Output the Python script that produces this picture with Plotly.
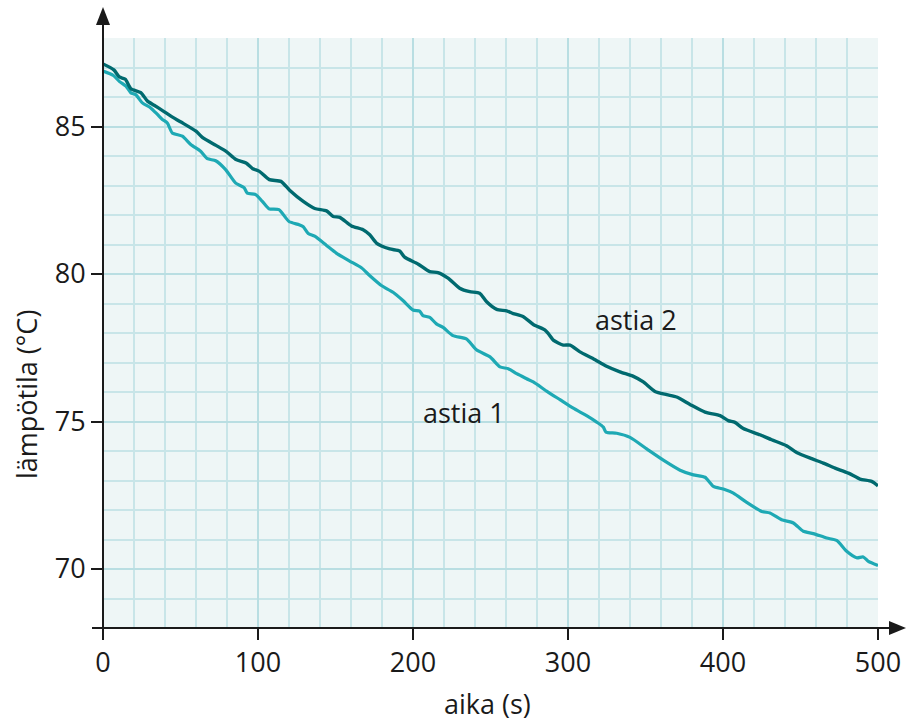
import plotly.graph_objects as go

# Cooling measurements: time (s) and temperature (°C) for the two vessels
t_astia2 = [0, 7, 10.5, 14.4, 18, 24.4, 28.7, 33, 38.4, 43.8, 50.3, 60, 64.3, 72.9, 79.4,
            85.8, 92.3, 96.6, 100.9, 107.3, 114.8, 120.4, 129.2, 136.6, 144.2, 148.5, 152.8,
            160.3, 167.8, 172.1, 176.4, 185, 191.4, 194.6, 203.2, 210.8, 216.1, 222.6, 230.1,
            236.6, 243, 247.5, 254, 260.4, 264.7, 271.2, 277.6, 285.2, 287.3, 290.5, 297,
            301.3, 307.7, 316.3, 324.9, 333.5, 342.2, 348.6, 356.1, 363.7, 370.1, 378.7,
            388.4, 398.1, 403.4, 407.7, 413.1, 423.8, 431.4, 441, 447.5, 457.2, 464.7, 472.3,
            480.9, 488.4, 495.9, 500]
temp_astia2 = [87.12, 86.92, 86.68, 86.6, 86.28, 86.15, 85.86, 85.72, 85.54, 85.35, 85.15,
               84.84, 84.62, 84.36, 84.16, 83.88, 83.76, 83.57, 83.48, 83.2, 83.14, 82.84,
               82.46, 82.22, 82.14, 81.95, 81.92, 81.63, 81.5, 81.33, 81.05, 80.85, 80.78,
               80.57, 80.34, 80.08, 80.05, 79.86, 79.52, 79.4, 79.35, 79.06, 78.8, 78.75,
               78.66, 78.55, 78.29, 78.1, 77.98, 77.76, 77.59, 77.59, 77.36, 77.13, 76.87,
               76.68, 76.53, 76.34, 76.02, 75.91, 75.83, 75.58, 75.32, 75.2, 75.03, 74.97,
               74.76, 74.55, 74.38, 74.18, 73.95, 73.74, 73.59, 73.42, 73.25, 73.05, 72.97,
               72.82]

t_astia1 = [0, 6.7, 10.5, 14.8, 18, 21.1, 25.4, 30.8, 35.1, 38.3, 41.5, 44.7, 51.2, 56.6,
            63, 67.3, 72.7, 79.1, 85.6, 91, 93.1, 98.5, 102.8, 107.1, 113.5, 120, 126.5,
            129.2, 132.4, 136.6, 144.2, 150.5, 159.1, 166.7, 172, 179.6, 187.1, 193.5, 200,
            204.3, 206.4, 210.8, 215.1, 219.4, 225.8, 234.4, 240.9, 249.7, 256.1, 261.5,
            266.9, 273.3, 277.6, 286.2, 294.8, 303.4, 312, 318.5, 322.8, 324.5, 331.4, 340,
            350.8, 361.5, 372.3, 380.9, 388.4, 393.8, 400.2, 406.7, 415.3, 425, 430.3,
            437.8, 445.4, 451.8, 458.3, 466.9, 473.3, 479.8, 486.2, 490.5, 493.8, 500]
temp_astia1 = [86.88, 86.73, 86.53, 86.37, 86.14, 86.08, 85.8, 85.63, 85.41, 85.24, 85.12,
               84.78, 84.67, 84.39, 84.16, 83.91, 83.84, 83.54, 83.08, 82.93, 82.74, 82.69,
               82.46, 82.21, 82.18, 81.78, 81.67, 81.6, 81.37, 81.28, 80.97, 80.71, 80.44,
               80.21, 79.95, 79.61, 79.38, 79.1, 78.78, 78.74, 78.59, 78.53, 78.31, 78.19,
               77.91, 77.8, 77.43, 77.19, 76.85, 76.79, 76.62, 76.45, 76.34, 76.03, 75.74,
               75.45, 75.2, 74.98, 74.81, 74.64, 74.6, 74.46, 74.07, 73.69, 73.35, 73.19,
               73.11, 72.8, 72.71, 72.57, 72.26, 71.95, 71.9, 71.67, 71.56, 71.28, 71.2,
               71.05, 70.97, 70.6, 70.38, 70.41, 70.26, 70.12]

x_ticks = [0, 100, 200, 300, 400, 500]
y_ticks = [70, 75, 80, 85]
series_names = ["astia 1", "astia 2"]

FONT = "Open Sans"
TEXT = "#1a1a1a"
DARK = "#006a6f"
LIGHT = "#1ea9b4"
GRID = "#c8e5e8"
GRID_MAJOR = "#b9dee2"
AXIS = "#1a1a1a"

fig = go.Figure()
fig.add_trace(go.Scatter(x=t_astia1, y=temp_astia1, mode="lines", name=series_names[0],
                         line=dict(color=LIGHT, width=3.2, shape="spline", smoothing=0.6)))
fig.add_trace(go.Scatter(x=t_astia2, y=temp_astia2, mode="lines", name=series_names[1],
                         line=dict(color=DARK, width=3.4, shape="spline", smoothing=0.6)))

L, R, T, B = 103, 28, 38, 96
W, H = 906, 724
pw, ph = W - L - R, H - T - B


def px(x):
    return (x - L) / pw


def py(y):
    return (H - B - y) / ph


shapes = [
    # axis lines extending to arrow tips
    dict(type="line", xref="paper", yref="paper", x0=px(92), x1=px(894), y0=0, y1=0,
         line=dict(color=AXIS, width=2), layer="above"),
    dict(type="line", xref="paper", yref="paper", x0=0, x1=0, y0=0, y1=py(20),
         line=dict(color=AXIS, width=2), layer="above"),
    # arrowheads
    dict(type="path", xref="paper", yref="paper", layer="above",
         path=f"M {px(906)} 0 L {px(889)} {py(H - B - 7)} L {px(889)} {py(H - B + 7)} Z",
         fillcolor=AXIS, line=dict(color=AXIS, width=0)),
    dict(type="path", xref="paper", yref="paper", layer="above",
         path=f"M 0 {py(7)} L {px(L - 7)} {py(25)} L {px(L + 7)} {py(25)} Z",
         fillcolor=AXIS, line=dict(color=AXIS, width=0)),
]

LABEL_SIZE = 27
annotations = [
    dict(x=344, y=78.45, xref="x", yref="y", text=series_names[1], showarrow=False,
         font=dict(family=FONT, size=LABEL_SIZE, color=TEXT)),
    dict(x=233, y=75.3, xref="x", yref="y", text=series_names[0], showarrow=False,
         font=dict(family=FONT, size=LABEL_SIZE, color=TEXT)),
    dict(x=px(487), y=py(703), xref="paper", yref="paper", xanchor="center",
         yanchor="middle", text="aika (s)", showarrow=False,
         font=dict(family=FONT, size=LABEL_SIZE, color=TEXT)),
    dict(x=px(26), y=py(395), xref="paper", yref="paper", xanchor="center",
         yanchor="middle", text="lämpötila (°C)", textangle=-90, showarrow=False,
         font=dict(family=FONT, size=LABEL_SIZE, color=TEXT)),
]

fig.update_layout(
    width=W, height=H,
    margin=dict(l=L, r=R, t=T, b=B, pad=0, autoexpand=False),
    paper_bgcolor="white",
    plot_bgcolor="#eef6f6",
    showlegend=False,
    shapes=shapes,
    annotations=annotations,
    font=dict(family=FONT, color=TEXT),
)

fig.update_xaxes(
    range=[0, 500], tickvals=x_ticks, ticks="outside", ticklen=11, tickwidth=2,
    tickcolor=AXIS, tickfont=dict(family=FONT, size=LABEL_SIZE, color=TEXT),
    showgrid=True, gridcolor=GRID_MAJOR, gridwidth=2, zeroline=False, showline=False,
    minor=dict(dtick=20, tick0=0, showgrid=True, gridcolor=GRID, gridwidth=1.5),
    fixedrange=True, automargin=False,
)
fig.update_yaxes(
    range=[68, 88], tickvals=y_ticks, ticks="outside", ticklen=11, tickwidth=2,
    tickcolor=AXIS, tickfont=dict(family=FONT, size=LABEL_SIZE, color=TEXT),
    showgrid=True, gridcolor=GRID_MAJOR, gridwidth=2, zeroline=False, showline=False,
    minor=dict(dtick=1, tick0=68, showgrid=True, gridcolor=GRID, gridwidth=1.5),
    fixedrange=True, automargin=False,
)

fig.write_html("out.html")
